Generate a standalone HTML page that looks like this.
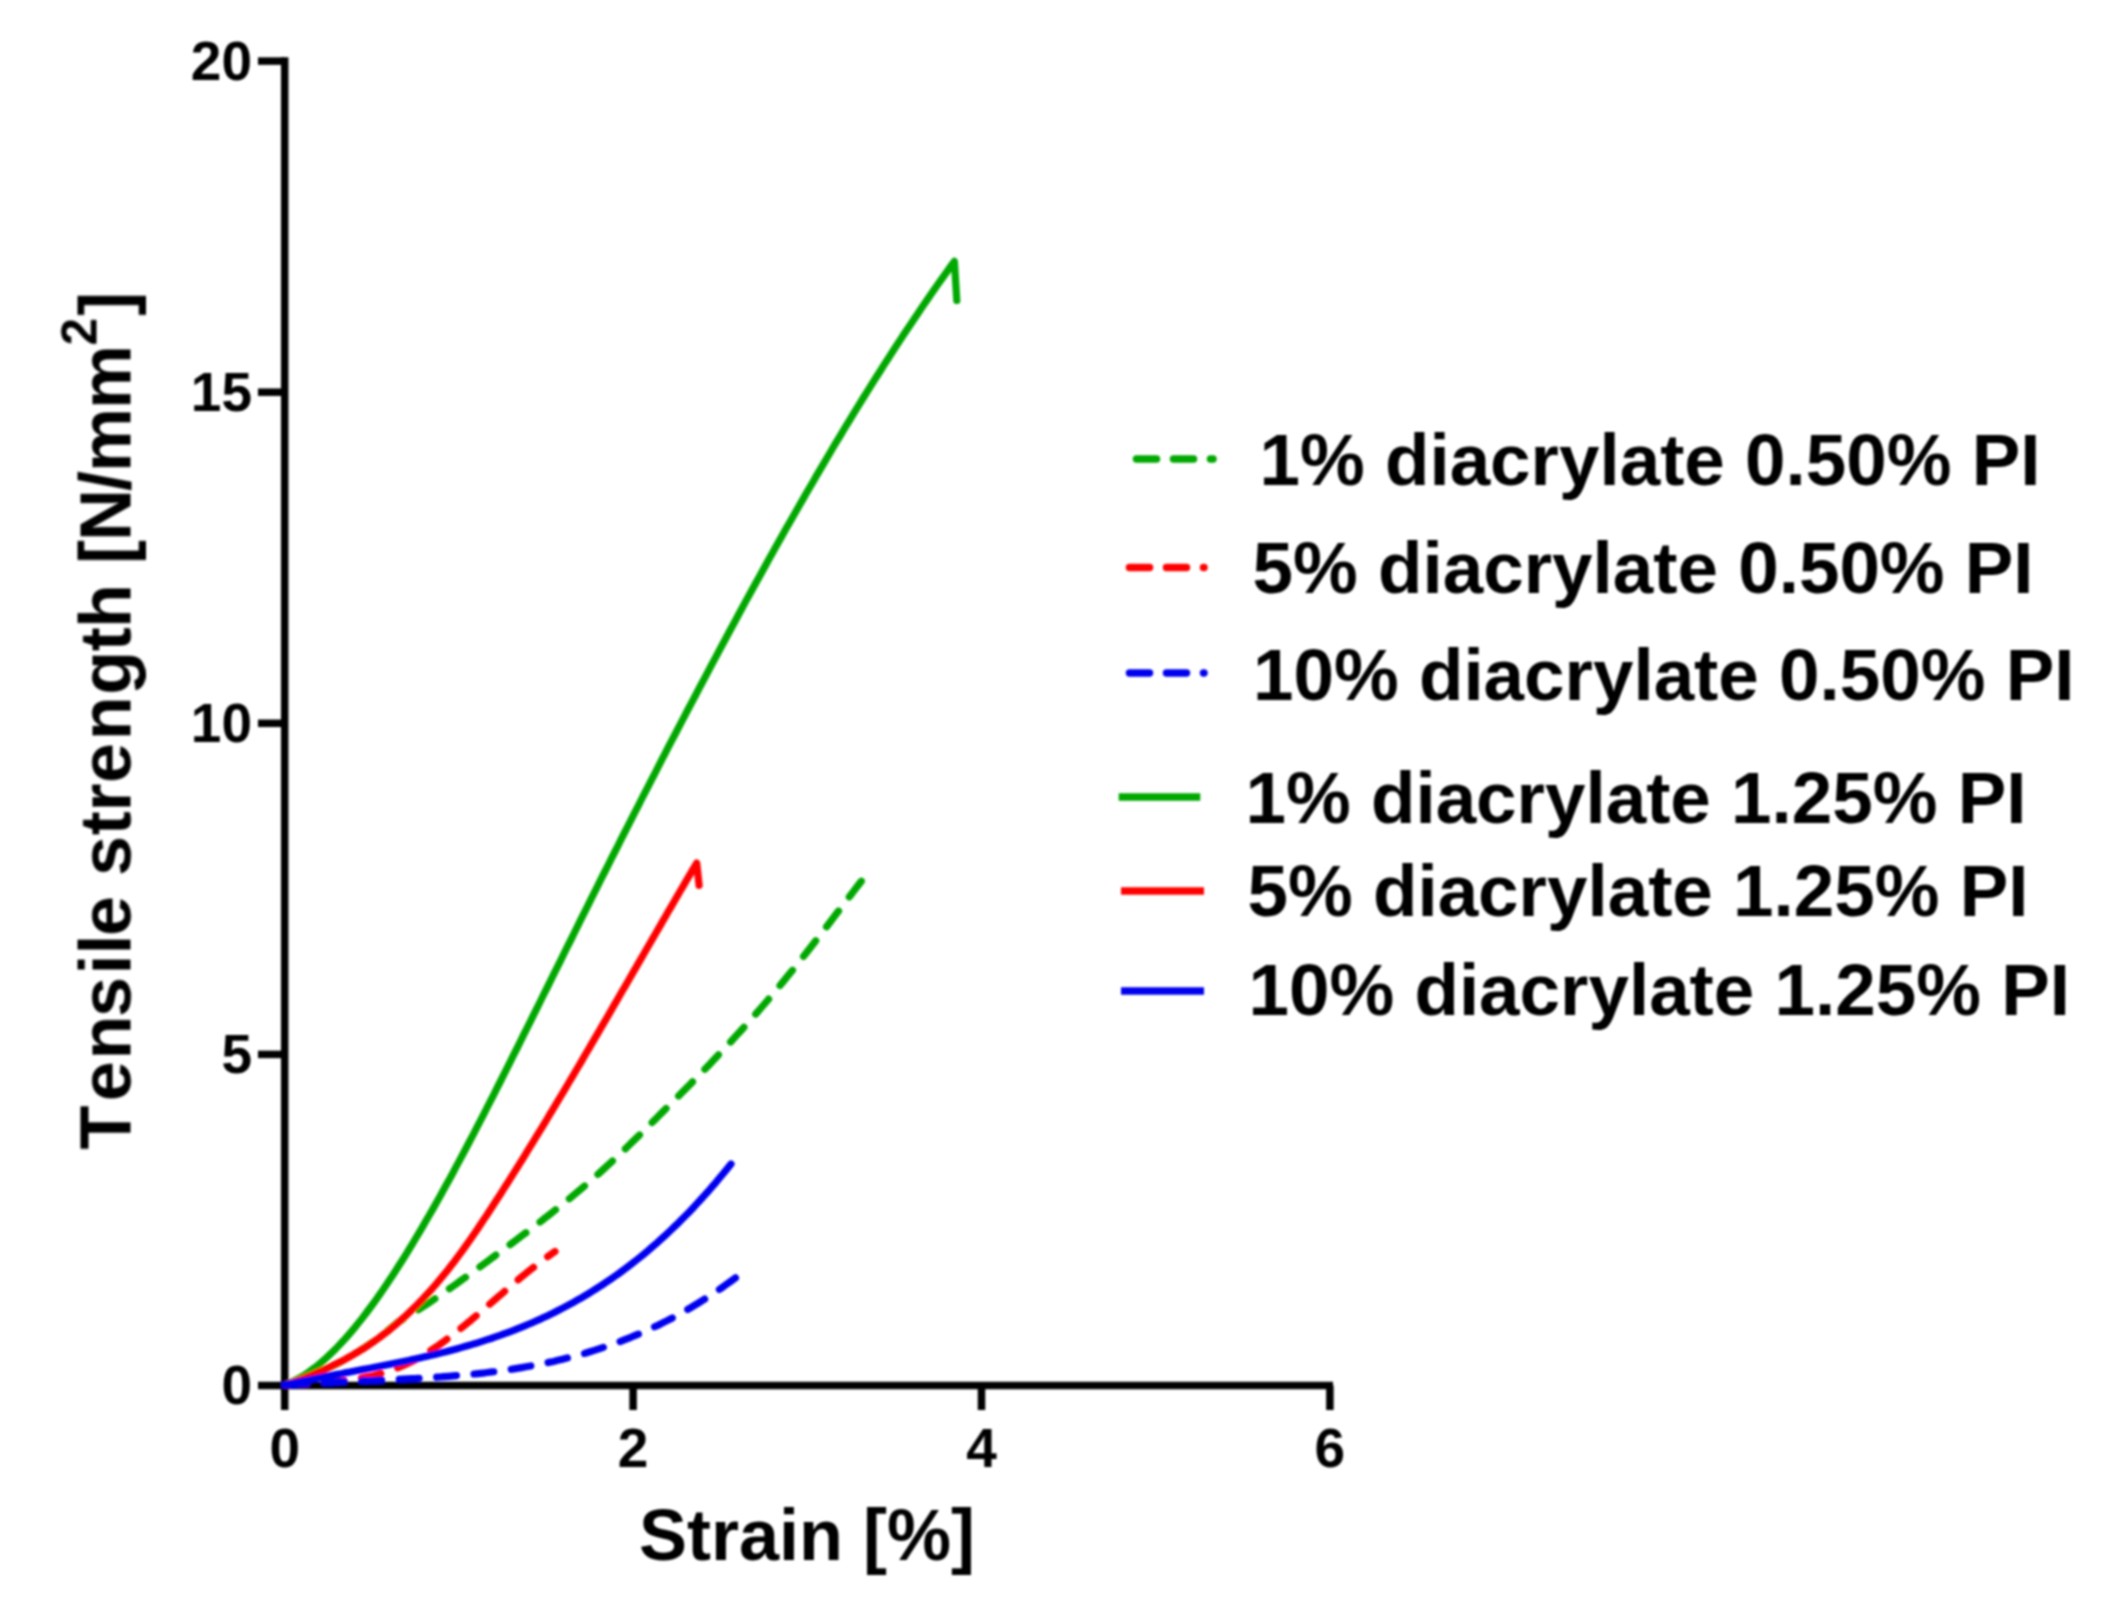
<!DOCTYPE html>
<html lang="en">
<head>
<meta charset="utf-8">
<title>Tensile strength vs strain</title>
<style>
html,body{margin:0;padding:0;background:#fff;}
body{width:2115px;height:1607px;overflow:hidden;}
svg{display:block;}
svg text{font-family:"Liberation Sans",sans-serif;font-weight:bold;fill:#000;font-kerning:none;}
</style>
</head>
<body>
<svg width="2115" height="1607" viewBox="0 0 2115 1607">
<defs><filter id="soft" filterUnits="userSpaceOnUse" x="0" y="0" width="2115" height="1607"><feGaussianBlur stdDeviation="1"/></filter></defs>
<rect width="2115" height="1607" fill="#fff"/>
<g filter="url(#soft)">
<path d="M284.7,57.35 L284.7,1410" stroke="#000" stroke-width="7.5" fill="none"/>
<path d="M258,1385.5 L1333,1385.5" stroke="#000" stroke-width="7.5" fill="none"/>
<path d="M258,1054.4 L284.7,1054.4" stroke="#000" stroke-width="7.5"/>
<path d="M258,723.3 L284.7,723.3" stroke="#000" stroke-width="7.5"/>
<path d="M258,392.2 L284.7,392.2" stroke="#000" stroke-width="7.5"/>
<path d="M258,61.1 L284.7,61.1" stroke="#000" stroke-width="7.5"/>
<path d="M633.1,1385.5 L633.1,1410" stroke="#000" stroke-width="7.5"/>
<path d="M981.5,1385.5 L981.5,1410" stroke="#000" stroke-width="7.5"/>
<path d="M1329.9,1385.5 L1329.9,1410" stroke="#000" stroke-width="7.5"/>
<path d="M284.7,1385.0 L288.6,1383.7 L292.5,1382.4 L296.4,1381.1 L300.3,1379.7 L304.2,1378.3 L308.1,1376.7 L312.0,1375.2 L316.0,1373.6 L319.9,1371.9 L323.8,1370.1 L327.7,1368.3 L331.6,1366.5 L335.5,1364.5 L339.4,1362.5 L343.3,1360.4 L347.2,1358.2 L351.1,1356.0 L355.0,1353.6 L358.9,1351.2 L362.8,1348.7 L366.7,1346.1 L370.7,1343.5 L374.6,1340.7 L378.5,1337.8 L382.4,1334.9 L386.3,1331.8 L390.2,1328.6 L394.1,1325.4 L398.0,1322.0 L401.9,1319.8 L405.8,1317.5 L409.7,1315.2 L413.6,1312.8 L417.5,1310.3 L421.4,1307.8 L425.3,1305.3 L429.1,1302.7 L433.0,1300.1 L436.9,1297.4 L440.8,1294.7 L444.7,1292.0 L448.6,1289.3 L452.5,1286.6 L456.4,1283.8 L460.3,1281.0 L464.2,1278.2 L468.1,1275.4 L472.0,1272.6 L475.9,1269.8 L479.8,1267.0 L483.7,1264.1 L487.5,1261.3 L491.4,1258.4 L495.3,1255.5 L499.2,1252.7 L503.1,1249.8 L507.0,1246.9 L510.9,1244.0 L514.8,1241.1 L518.7,1238.1 L522.6,1235.2 L526.5,1232.3 L530.4,1229.3 L534.3,1226.3 L538.2,1223.4 L542.1,1220.4 L545.9,1217.3 L549.8,1214.3 L553.7,1211.2 L557.6,1208.1 L561.5,1205.0 L565.4,1201.9 L569.3,1198.7 L573.2,1195.5 L577.1,1192.2 L581.0,1189.0 L584.9,1185.7 L588.8,1182.3 L592.7,1178.9 L596.6,1175.5 L600.5,1172.0 L604.3,1168.5 L608.2,1164.9 L612.1,1161.3 L616.0,1157.7 L619.9,1154.0 L623.8,1150.3 L627.7,1146.5 L631.6,1142.7 L635.5,1138.9 L639.4,1135.1 L643.3,1131.3 L647.2,1127.4 L651.1,1123.5 L655.0,1119.7 L658.8,1115.8 L662.7,1111.9 L666.6,1108.0 L670.5,1104.1 L674.4,1100.2 L678.3,1096.3 L682.2,1092.3 L686.1,1088.4 L690.0,1084.4 L693.9,1080.5 L697.8,1076.5 L701.7,1072.4 L705.6,1068.4 L709.5,1064.4 L713.4,1060.3 L717.2,1056.2 L721.1,1052.0 L725.0,1047.9 L728.9,1043.7 L732.8,1039.5 L736.7,1035.2 L740.6,1031.0 L744.5,1026.6 L748.4,1022.3 L752.3,1017.9 L756.2,1013.5 L760.1,1009.0 L764.0,1004.5 L767.9,1000.0 L771.8,995.4 L775.6,990.8 L779.5,986.1 L783.4,981.4 L787.3,976.6 L791.2,971.8 L795.1,967.0 L799.0,962.1 L802.9,957.2 L806.8,952.2 L810.7,947.2 L814.6,942.2 L818.5,937.2 L822.4,932.1 L826.3,927.1 L830.2,922.0 L834.0,916.9 L837.9,911.8 L841.8,906.7 L845.7,901.6 L849.6,896.5 L853.5,891.4 L857.4,886.3 L861.3,881.2" fill="none" stroke="#00a800" stroke-width="7.2" stroke-linecap="round" stroke-linejoin="round" stroke-dasharray="19.8 17.7" stroke-dashoffset="33.1"/>
<path d="M284.7,1385.0 L288.1,1384.8 L291.5,1384.5 L295.0,1384.3 L298.4,1384.1 L301.8,1384.0 L305.2,1383.8 L308.7,1383.6 L312.1,1383.4 L315.5,1383.2 L318.9,1382.9 L322.3,1382.7 L325.8,1382.4 L329.2,1382.2 L332.6,1381.9 L336.0,1381.5 L339.4,1381.2 L342.9,1380.8 L346.3,1380.4 L349.7,1379.9 L353.1,1379.4 L356.6,1378.9 L360.0,1378.3 L363.4,1377.6 L366.8,1376.9 L370.2,1376.2 L373.7,1375.4 L377.1,1374.5 L380.5,1373.6 L383.9,1372.6 L387.3,1371.5 L390.8,1370.3 L394.2,1369.1 L397.6,1367.8 L401.0,1366.4 L404.5,1364.9 L407.9,1363.4 L411.3,1361.7 L414.7,1360.0 L418.1,1358.1 L421.6,1356.2 L425.0,1354.1 L428.4,1352.0 L431.8,1349.8 L435.2,1347.5 L438.7,1345.2 L442.1,1342.8 L445.5,1340.3 L448.9,1337.7 L452.4,1335.1 L455.8,1332.5 L459.2,1329.8 L462.6,1327.0 L466.0,1324.2 L469.5,1321.4 L472.9,1318.5 L476.3,1315.7 L479.7,1312.8 L483.1,1309.8 L486.6,1306.9 L490.0,1303.9 L493.4,1301.0 L496.8,1298.0 L500.3,1295.1 L503.7,1292.1 L507.1,1289.2 L510.5,1286.3 L513.9,1283.4 L517.4,1280.5 L520.8,1277.6 L524.2,1274.8 L527.6,1272.0 L531.0,1269.3 L534.5,1266.6 L537.9,1263.9 L541.3,1261.3 L544.7,1258.8 L548.2,1256.3 L551.6,1253.8 L555.0,1251.5" fill="none" stroke="#ff0000" stroke-width="7.2" stroke-linecap="round" stroke-linejoin="round" stroke-dasharray="19.8 17.7" stroke-dashoffset="35.3"/>
<path d="M284.7,1385.0 L289.3,1384.7 L293.8,1384.4 L298.4,1384.1 L302.9,1383.8 L307.5,1383.5 L312.0,1383.2 L316.6,1383.0 L321.1,1382.8 L325.7,1382.5 L330.2,1382.3 L334.8,1382.1 L339.3,1381.9 L343.9,1381.7 L348.4,1381.5 L353.0,1381.3 L357.6,1381.1 L362.1,1380.9 L366.7,1380.7 L371.2,1380.5 L375.8,1380.3 L380.3,1380.1 L384.9,1379.9 L389.4,1379.7 L394.0,1379.5 L398.5,1379.3 L403.1,1379.1 L407.6,1378.9 L412.2,1378.6 L416.8,1378.4 L421.3,1378.1 L425.9,1377.9 L430.4,1377.6 L435.0,1377.3 L439.5,1377.0 L444.1,1376.6 L448.6,1376.3 L453.2,1375.9 L457.7,1375.5 L462.3,1375.1 L466.8,1374.7 L471.4,1374.3 L475.9,1373.8 L480.5,1373.3 L485.1,1372.8 L489.6,1372.2 L494.2,1371.7 L498.7,1371.1 L503.3,1370.4 L507.8,1369.8 L512.4,1369.1 L516.9,1368.4 L521.5,1367.6 L526.0,1366.8 L530.6,1366.0 L535.1,1365.2 L539.7,1364.3 L544.3,1363.3 L548.8,1362.4 L553.4,1361.4 L557.9,1360.3 L562.5,1359.2 L567.0,1358.1 L571.6,1356.9 L576.1,1355.7 L580.7,1354.5 L585.2,1353.2 L589.8,1351.8 L594.3,1350.4 L598.9,1348.9 L603.4,1347.4 L608.0,1345.9 L612.6,1344.3 L617.1,1342.6 L621.7,1340.9 L626.2,1339.1 L630.8,1337.3 L635.3,1335.4 L639.9,1333.5 L644.4,1331.5 L649.0,1329.5 L653.5,1327.3 L658.1,1325.2 L662.6,1322.9 L667.2,1320.6 L671.8,1318.3 L676.3,1315.8 L680.9,1313.3 L685.4,1310.8 L690.0,1308.1 L694.5,1305.4 L699.1,1302.6 L703.6,1299.8 L708.2,1296.9 L712.7,1293.9 L717.3,1290.8 L721.8,1287.7 L726.4,1284.4 L730.9,1281.2 L735.5,1277.8" fill="none" stroke="#0000f0" stroke-width="7.2" stroke-linecap="round" stroke-linejoin="round" stroke-dasharray="19.8 17.7" stroke-dashoffset="35.3"/>
<path d="M284.7,1385.0 L288.1,1383.7 L291.4,1382.2 L294.8,1380.5 L298.2,1378.7 L301.5,1376.8 L304.9,1374.7 L308.3,1372.4 L311.6,1370.0 L315.0,1367.5 L318.4,1364.8 L321.7,1362.0 L325.1,1359.0 L328.4,1355.9 L331.8,1352.7 L335.2,1349.4 L338.5,1345.9 L341.9,1342.3 L345.3,1338.6 L348.6,1334.8 L352.0,1330.8 L355.4,1326.8 L358.7,1322.6 L362.1,1318.4 L365.5,1314.0 L368.8,1309.5 L372.2,1305.0 L375.6,1300.3 L378.9,1295.6 L382.3,1290.7 L385.7,1285.8 L389.0,1280.8 L392.4,1275.7 L395.8,1270.5 L399.1,1265.3 L402.5,1260.0 L405.9,1254.6 L409.2,1249.1 L412.6,1243.6 L415.9,1238.0 L419.3,1232.3 L422.7,1226.6 L426.0,1220.8 L429.4,1215.0 L432.8,1209.1 L436.1,1203.2 L439.5,1197.2 L442.9,1191.1 L446.2,1185.0 L449.6,1178.9 L453.0,1172.7 L456.3,1166.4 L459.7,1160.1 L463.1,1153.8 L466.4,1147.5 L469.8,1141.0 L473.2,1134.6 L476.5,1128.1 L479.9,1121.6 L483.3,1115.1 L486.6,1108.5 L490.0,1101.9 L493.4,1095.3 L496.7,1088.7 L500.1,1082.0 L503.4,1075.3 L506.8,1068.7 L510.2,1061.9 L513.5,1055.2 L516.9,1048.5 L520.3,1041.7 L523.6,1034.9 L527.0,1028.2 L530.4,1021.4 L533.7,1014.6 L537.1,1007.8 L540.5,1001.0 L543.8,994.2 L547.2,987.5 L550.6,980.7 L553.9,973.9 L557.3,967.1 L560.7,960.3 L564.0,953.5 L567.4,946.7 L570.8,940.0 L574.1,933.2 L577.5,926.4 L580.8,919.6 L584.2,912.9 L587.6,906.1 L590.9,899.4 L594.3,892.7 L597.7,885.9 L601.0,879.2 L604.4,872.5 L607.8,865.8 L611.1,859.1 L614.5,852.5 L617.9,845.8 L621.2,839.1 L624.6,832.5 L628.0,825.9 L631.3,819.3 L634.7,812.7 L638.1,806.1 L641.4,799.5 L644.8,792.9 L648.2,786.3 L651.5,779.8 L654.9,773.3 L658.3,766.7 L661.6,760.2 L665.0,753.7 L668.3,747.2 L671.7,740.7 L675.1,734.3 L678.4,727.8 L681.8,721.4 L685.2,714.9 L688.5,708.5 L691.9,702.1 L695.3,695.7 L698.6,689.3 L702.0,683.0 L705.4,676.6 L708.7,670.3 L712.1,663.9 L715.5,657.6 L718.8,651.3 L722.2,645.0 L725.6,638.7 L728.9,632.5 L732.3,626.2 L735.7,620.0 L739.0,613.8 L742.4,607.6 L745.7,601.4 L749.1,595.3 L752.5,589.1 L755.8,583.0 L759.2,576.9 L762.6,570.8 L765.9,564.7 L769.3,558.6 L772.7,552.6 L776.0,546.6 L779.4,540.6 L782.8,534.6 L786.1,528.6 L789.5,522.7 L792.9,516.8 L796.2,510.9 L799.6,505.0 L803.0,499.1 L806.3,493.3 L809.7,487.5 L813.1,481.7 L816.4,475.9 L819.8,470.1 L823.2,464.4 L826.5,458.7 L829.9,453.0 L833.2,447.3 L836.6,441.7 L840.0,436.1 L843.3,430.5 L846.7,424.9 L850.1,419.4 L853.4,413.9 L856.8,408.4 L860.2,402.9 L863.5,397.5 L866.9,392.1 L870.3,386.7 L873.6,381.3 L877.0,376.0 L880.4,370.7 L883.7,365.4 L887.1,360.2 L890.5,354.9 L893.8,349.7 L897.2,344.6 L900.6,339.4 L903.9,334.3 L907.3,329.2 L910.7,324.2 L914.0,319.2 L917.4,314.2 L920.7,309.2 L924.1,304.3 L927.5,299.4 L930.8,294.5 L934.2,289.7 L937.6,284.8 L940.9,280.1 L944.3,275.3 L947.7,270.6 L951.0,265.9 L954.4,261.3 L956.8,300.5" fill="none" stroke="#00a800" stroke-width="7.2" stroke-linecap="round" stroke-linejoin="round"/>
<path d="M284.7,1385.0 L287.5,1384.1 L290.2,1383.1 L293.0,1382.1 L295.8,1381.1 L298.5,1380.1 L301.3,1379.1 L304.1,1378.0 L306.8,1377.0 L309.6,1375.9 L312.4,1374.7 L315.1,1373.6 L317.9,1372.4 L320.6,1371.2 L323.4,1370.0 L326.2,1368.7 L328.9,1367.5 L331.7,1366.1 L334.5,1364.8 L337.2,1363.4 L340.0,1362.0 L342.8,1360.6 L345.5,1359.1 L348.3,1357.5 L351.1,1356.0 L353.8,1354.4 L356.6,1352.7 L359.4,1351.1 L362.1,1349.3 L364.9,1347.6 L367.7,1345.8 L370.4,1343.9 L373.2,1342.0 L375.9,1340.1 L378.7,1338.1 L381.5,1336.0 L384.2,1333.9 L387.0,1331.8 L389.8,1329.6 L392.5,1327.3 L395.3,1325.0 L398.1,1322.6 L400.8,1320.2 L403.6,1317.7 L406.4,1315.2 L409.1,1312.6 L411.9,1309.9 L414.7,1307.2 L417.4,1304.4 L420.2,1301.6 L423.0,1298.7 L425.7,1295.7 L428.5,1292.7 L431.3,1289.6 L434.0,1286.5 L436.8,1283.3 L439.5,1280.0 L442.3,1276.7 L445.1,1273.3 L447.8,1269.9 L450.6,1266.3 L453.4,1262.8 L456.1,1259.1 L458.9,1255.4 L461.7,1251.6 L464.4,1247.8 L467.2,1243.9 L470.0,1240.0 L472.7,1236.0 L475.5,1232.0 L478.3,1227.9 L481.0,1223.8 L483.8,1219.6 L486.6,1215.5 L489.3,1211.3 L492.1,1207.0 L494.8,1202.8 L497.6,1198.5 L500.4,1194.2 L503.1,1189.9 L505.9,1185.5 L508.7,1181.2 L511.4,1176.8 L514.2,1172.4 L517.0,1168.0 L519.7,1163.6 L522.5,1159.2 L525.3,1154.7 L528.0,1150.2 L530.8,1145.7 L533.6,1141.2 L536.3,1136.7 L539.1,1132.2 L541.9,1127.6 L544.6,1123.1 L547.4,1118.5 L550.1,1113.9 L552.9,1109.3 L555.7,1104.7 L558.4,1100.1 L561.2,1095.5 L564.0,1090.8 L566.7,1086.2 L569.5,1081.5 L572.3,1076.8 L575.0,1072.2 L577.8,1067.5 L580.6,1062.8 L583.3,1058.1 L586.1,1053.3 L588.9,1048.6 L591.6,1043.9 L594.4,1039.2 L597.2,1034.4 L599.9,1029.7 L602.7,1024.9 L605.5,1020.2 L608.2,1015.4 L611.0,1010.6 L613.7,1005.9 L616.5,1001.1 L619.3,996.3 L622.0,991.5 L624.8,986.8 L627.6,982.0 L630.3,977.2 L633.1,972.4 L635.9,967.6 L638.6,962.9 L641.4,958.1 L644.2,953.3 L646.9,948.5 L649.7,943.7 L652.5,938.9 L655.2,934.2 L658.0,929.4 L660.8,924.6 L663.5,919.8 L666.3,915.1 L669.0,910.3 L671.8,905.6 L674.6,900.8 L677.3,896.1 L680.1,891.3 L682.9,886.6 L685.6,881.9 L688.4,877.1 L691.2,872.4 L693.9,867.7 L696.7,863.0 L699.1,885.3" fill="none" stroke="#ff0000" stroke-width="7.2" stroke-linecap="round" stroke-linejoin="round"/>
<path d="M284.7,1385.0 L288.5,1384.2 L292.2,1383.4 L296.0,1382.6 L299.7,1381.8 L303.5,1381.0 L307.2,1380.2 L311.0,1379.5 L314.7,1378.7 L318.5,1378.0 L322.2,1377.3 L326.0,1376.5 L329.7,1375.8 L333.5,1375.1 L337.2,1374.4 L341.0,1373.7 L344.7,1372.9 L348.5,1372.2 L352.2,1371.5 L356.0,1370.8 L359.7,1370.1 L363.5,1369.4 L367.2,1368.7 L371.0,1368.0 L374.7,1367.2 L378.5,1366.5 L382.2,1365.8 L386.0,1365.0 L389.7,1364.3 L393.5,1363.5 L397.2,1362.8 L401.0,1362.0 L404.7,1361.2 L408.5,1360.4 L412.2,1359.6 L416.0,1358.8 L419.7,1357.9 L423.5,1357.1 L427.2,1356.2 L431.0,1355.3 L434.7,1354.5 L438.5,1353.5 L442.2,1352.6 L446.0,1351.7 L449.7,1350.7 L453.5,1349.7 L457.2,1348.7 L461.0,1347.6 L464.7,1346.6 L468.5,1345.5 L472.2,1344.4 L476.0,1343.3 L479.7,1342.1 L483.5,1340.9 L487.2,1339.7 L491.0,1338.5 L494.7,1337.2 L498.5,1335.9 L502.2,1334.5 L506.0,1333.2 L509.7,1331.8 L513.5,1330.4 L517.2,1328.9 L521.0,1327.4 L524.7,1325.9 L528.5,1324.3 L532.2,1322.7 L536.0,1321.0 L539.7,1319.4 L543.5,1317.6 L547.2,1315.9 L551.0,1314.1 L554.7,1312.2 L558.5,1310.3 L562.2,1308.4 L566.0,1306.4 L569.7,1304.4 L573.5,1302.3 L577.2,1300.2 L581.0,1298.1 L584.7,1295.9 L588.5,1293.6 L592.2,1291.3 L596.0,1288.9 L599.7,1286.5 L603.5,1284.1 L607.2,1281.6 L611.0,1279.0 L614.7,1276.4 L618.5,1273.7 L622.2,1271.0 L626.0,1268.2 L629.7,1265.3 L633.5,1262.4 L637.2,1259.5 L641.0,1256.5 L644.7,1253.4 L648.5,1250.2 L652.2,1247.0 L656.0,1243.8 L659.7,1240.4 L663.5,1237.0 L667.2,1233.6 L671.0,1230.0 L674.7,1226.4 L678.5,1222.8 L682.2,1219.0 L686.0,1215.2 L689.7,1211.4 L693.5,1207.4 L697.2,1203.4 L701.0,1199.3 L704.7,1195.2 L708.5,1191.0 L712.2,1186.7 L716.0,1182.3 L719.7,1177.8 L723.5,1173.3 L727.2,1168.7 L731.0,1164.0" fill="none" stroke="#0000f0" stroke-width="7.2" stroke-linecap="round" stroke-linejoin="round"/>
<text x="252" y="1404.1" font-size="55" text-anchor="end">0</text>
<text x="252" y="1073.0" font-size="55" text-anchor="end">5</text>
<text x="252" y="741.9" font-size="55" text-anchor="end">10</text>
<text x="252" y="410.8" font-size="55" text-anchor="end">15</text>
<text x="252" y="79.7" font-size="55" text-anchor="end">20</text>
<text x="284.7" y="1467" font-size="55" text-anchor="middle">0</text>
<text x="633.1" y="1467" font-size="55" text-anchor="middle">2</text>
<text x="981.5" y="1467" font-size="55" text-anchor="middle">4</text>
<text x="1329.9" y="1467" font-size="55" text-anchor="middle">6</text>
<text x="639" y="1560" font-size="72">Strain [%]</text>
<text transform="translate(130.5,1150.5) rotate(-90)" font-size="72" x="1.0 49.3 91.0 133.5 176.0 196.1 214.6 255.1 274.6 315.2 339.1 367.6 410.2 455.7 499.2 522.6 566.6 586.6 609.6 659.6 678.4 741.6" y="0">Tensile strength [N/mm<tspan font-size="49.5" x="805.1" y="-34.5">2</tspan><tspan x="834.7" y="0">]</tspan></text>
<path d="M1136.5,459 L1213,459" stroke="#00a800" stroke-width="7.5" stroke-linecap="round" stroke-dasharray="20 17" fill="none"/>
<text x="1259.5" y="485" font-size="72.8">1% diacrylate 0.50% PI</text>
<path d="M1129.5,567.4 L1204,567.4" stroke="#ff0000" stroke-width="7.5" stroke-linecap="round" stroke-dasharray="20 17" fill="none"/>
<text x="1252.6" y="593.3" font-size="72.8">5% diacrylate 0.50% PI</text>
<path d="M1129.5,672.9 L1204,672.9" stroke="#0000f0" stroke-width="7.5" stroke-linecap="round" stroke-dasharray="20 17" fill="none"/>
<text x="1253" y="699.6" font-size="72.8">10% diacrylate 0.50% PI</text>
<path d="M1118.7,797 L1200.3,797" stroke="#00a800" stroke-width="7.5" fill="none"/>
<text x="1245.5" y="822.7" font-size="72.8">1% diacrylate 1.25% PI</text>
<path d="M1121,891 L1204,891" stroke="#ff0000" stroke-width="7.5" fill="none"/>
<text x="1247.5" y="916" font-size="72.8">5% diacrylate 1.25% PI</text>
<path d="M1121,991 L1204,991" stroke="#0000f0" stroke-width="7.5" fill="none"/>
<text x="1248.5" y="1015.3" font-size="72.8">10% diacrylate 1.25% PI</text>
</g>
</svg>
</body>
</html>
